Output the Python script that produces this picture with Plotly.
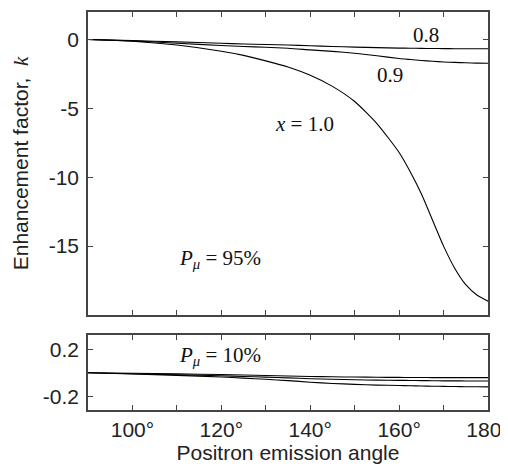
import plotly.graph_objects as go
from plotly.subplots import make_subplots

# Positron emission angle (degrees)
angle = [90, 100, 110, 120, 125, 130, 135, 140, 145, 150, 155, 160, 162.5, 165, 167.5, 170, 172.5, 175, 177.5, 180]

# P_mu = 95% panel
k95_x08 = [0, -0.08, -0.17, -0.27, -0.32, -0.36, -0.40, -0.45, -0.50, -0.55, -0.59, -0.62, -0.63, -0.64, -0.65, -0.66, -0.665, -0.67, -0.67, -0.67]
k95_x09 = [0, -0.10, -0.27, -0.43, -0.50, -0.56, -0.63, -0.75, -0.86, -1.00, -1.18, -1.38, -1.45, -1.52, -1.58, -1.63, -1.66, -1.69, -1.71, -1.72]
k95_x10 = [0, -0.12, -0.40, -0.85, -1.15, -1.55, -2.00, -2.60, -3.40, -4.50, -6.10, -8.20, -9.60, -11.2, -13.1, -15.0, -16.6, -17.8, -18.55, -19.0]

# P_mu = 10% panel
k10_x08 = [0, -0.004, -0.009, -0.015, -0.019, -0.023, -0.027, -0.031, -0.034, -0.036, -0.038, -0.039, -0.0395, -0.040, -0.0405, -0.041, -0.041, -0.041, -0.041, -0.041]
k10_x09 = [0, -0.008, -0.016, -0.025, -0.031, -0.037, -0.043, -0.050, -0.055, -0.059, -0.062, -0.064, -0.065, -0.066, -0.067, -0.068, -0.0685, -0.069, -0.069, -0.069]
k10_x10 = [0, -0.010, -0.022, -0.035, -0.045, -0.055, -0.066, -0.080, -0.090, -0.098, -0.104, -0.108, -0.110, -0.112, -0.1135, -0.115, -0.1165, -0.118, -0.1185, -0.119]

x_tickvals = [100, 110, 120, 130, 140, 150, 160, 170, 180]
x_ticktext = ["100°", "", "120°", "", "140°", "", "160°", "", "180°"]
y_top_tickvals = [0, -5, -10, -15]
y_top_ticktext = ["0", "-5", "-10", "-15"]
y_bot_tickvals = [0.2, -0.2]
y_bot_ticktext = ["0.2", "-0.2"]

fig = make_subplots(rows=2, cols=1, shared_xaxes=False, vertical_spacing=0.0)

line = dict(color="black", width=1.1, shape="spline", smoothing=0.6)
for ys in (k95_x08, k95_x09, k95_x10):
    fig.add_trace(go.Scatter(x=angle, y=ys, mode="lines", line=line, showlegend=False), row=1, col=1)
for ys in (k10_x08, k10_x09, k10_x10):
    fig.add_trace(go.Scatter(x=angle, y=ys, mode="lines", line=line, showlegend=False), row=2, col=1)

sans = "Liberation Sans, Arial, sans-serif"
serif = "Liberation Serif, Times New Roman, serif"
axcol = "#444444"

common = dict(showline=True, linecolor=axcol, linewidth=1.5, mirror="ticks", ticks="inside",
              ticklen=5, tickcolor=axcol, tickwidth=1, showgrid=False, zeroline=False,
              automargin=False,
              tickfont=dict(family=sans, size=21, color="#222"))

# page body adds an 8px offset; height keeps the page inside the window
W, H = 500, 456
fig.update_layout(
    width=W, height=H,
    margin=dict(l=80, r=20, t=4, b=54),
    paper_bgcolor="white", plot_bgcolor="white",
    xaxis=dict(domain=[0, 1], range=[90, 180], tickvals=x_tickvals, ticktext=x_ticktext,
               showticklabels=False, anchor="y", **common),
    yaxis=dict(domain=[95 / 398, 1], range=[-20, 2], tickvals=y_top_tickvals, ticktext=y_top_ticktext,
               ticklabelstandoff=3,
               title=dict(text="Enhancement factor,  <span style='font-family:Liberation Serif'><i>k</i></span>",
                          font=dict(family=sans, size=21, color="#222"), standoff=14),
               anchor="x", **common),
    xaxis2=dict(domain=[0, 1], range=[90, 180], tickvals=x_tickvals, ticktext=x_ticktext,
                ticklabelstandoff=0, ticklabeloverflow="allow",
                title=dict(text="Positron emission angle", font=dict(family=sans, size=21, color="#222"), standoff=8),
                anchor="y2", **common),
    yaxis2=dict(domain=[0, 75 / 398], range=[-0.315, 0.32], tickvals=y_bot_tickvals, ticktext=y_bot_ticktext,
                ticklabelstandoff=3, anchor="x2", **common),
)

afont = dict(family=serif, size=21, color="#111")
fig.add_annotation(x=166.1, y=0.3, xref="x", yref="y", text="0.8", showarrow=False, font=afont)
fig.add_annotation(x=158.0, y=-2.6, xref="x", yref="y", text="0.9", showarrow=False, font=afont)
fig.add_annotation(x=138.8, y=-6.1, xref="x", yref="y", text="<i>x</i> = 1.0", showarrow=False, font=afont)
fig.add_annotation(x=110, y=-15.9, xref="x", yref="y", text="<i>P</i><sub><i>μ</i></sub> = 95%",
                   showarrow=False, font=afont, xanchor="left")
fig.add_annotation(x=110, y=0.14, xref="x2", yref="y2", text="<i>P</i><sub><i>μ</i></sub> = 10%",
                   showarrow=False, font=afont, xanchor="left")

fig.write_html("out.html")
